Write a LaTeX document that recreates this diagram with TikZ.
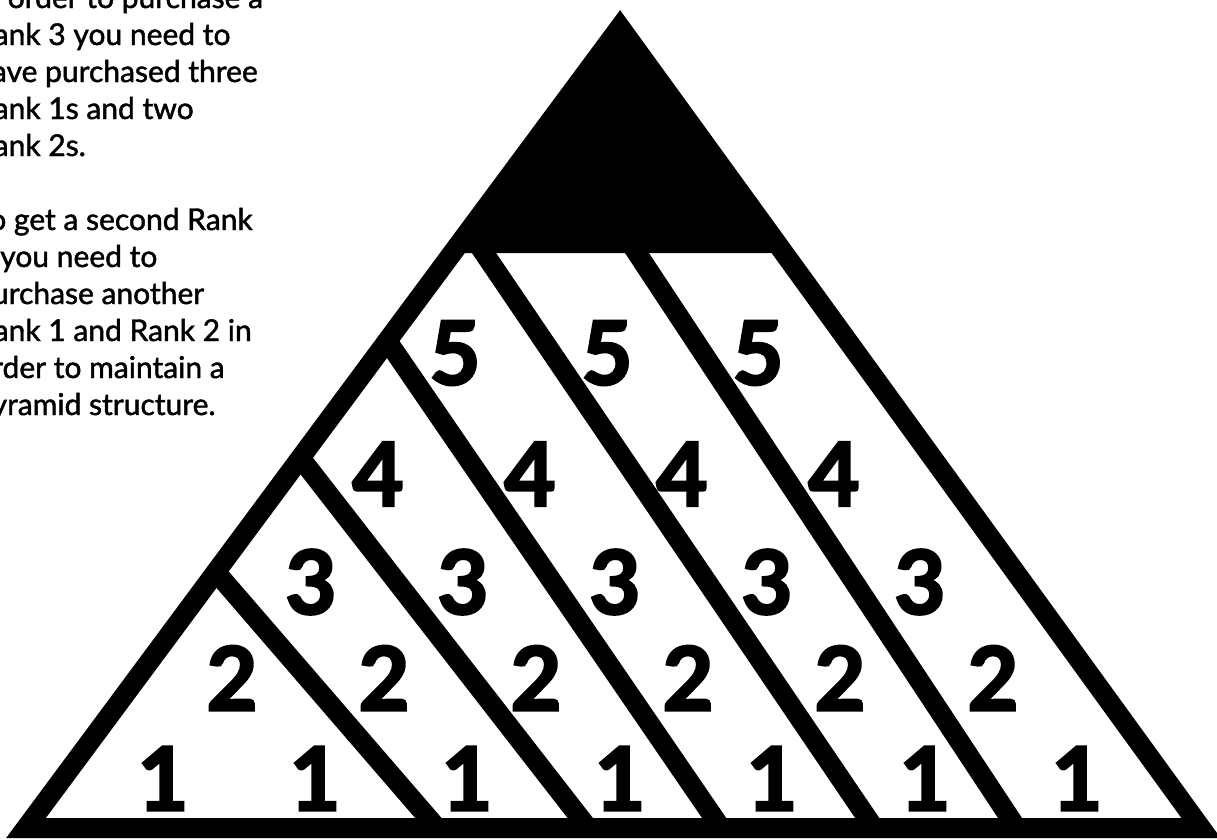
\documentclass[tikz,border=0pt]{standalone}
\usepackage{fontspec}
\setmainfont{Lato}
\newfontfamily\digitfont[FakeBold=3]{Lato}
\newfontfamily\notefont[FakeBold=1.5]{Lato}
\begin{document}
\begin{tikzpicture}[x=1pt,y=-1pt,
  edge/.style={line width=20pt, line join=miter, line cap=butt, draw=black},
  num/.style={font=\digitfont\fontsize{88}{88}\selectfont\bfseries, inner sep=0pt, anchor=center},
  para/.style={font=\notefont\fontsize{30}{37}\selectfont, inner sep=0pt, align=left, anchor=base west, text=black}
]
\clip (0,0) rectangle (1217,839);
% outer triangle corners (stroke centre line)
\coordinate (A) at (620,27);
\coordinate (L) at (26,828);
\coordinate (R) at (1201,828);
% black cap
\coordinate (CL) at (452.6,253);
\coordinate (CR) at (784.1,253);
\fill[black] (A) -- (CL) -- (CR) -- cycle;
% diagonal strokes
\coordinate (d1t) at (216,572);   \coordinate (d1b) at (437,828);
\coordinate (d2t) at (300.5,458); \coordinate (d2b) at (588,828);
\coordinate (d3t) at (387.4,341); \coordinate (d3b) at (721,828);
\coordinate (d4t) at (475.2,240); \coordinate (d4b) at (874,828);
\coordinate (d5t) at (628.4,240); \coordinate (d5b) at (1016.6,828);
\foreach \i in {1,...,5} {\draw[edge] (d\i t) -- (d\i b);}
\draw[edge] (A) -- (L) -- (R) -- cycle;
% numbers
\foreach \x [count=\k] in {163,315,467,620,772,925,1077} {\node[num] (one\k) at (\x,778.5) {1};}
\foreach \x [count=\k] in {232,384,536,688,840,993} {\node[num] (two\k) at (\x,678) {2};}
\foreach \x [count=\k] in {311,463,615,767,920} {\node[num] (three\k) at (\x,582) {3};}
\foreach \x [count=\k] in {378,530,682,834} {\node[num] (four\k) at (\x,474) {4};}
\foreach \x [count=\k] in {455,607,758} {\node[num] (five\k) at (\x,353) {5};}
% paragraph (anchored at the baseline of its last line)
\node[para] (note) at (-25,415) {In order to purchase a\\Rank 3 you need to\\have purchased three\\Rank 1s and two\\Rank 2s.\\[37pt]To get a second Rank\\3 you need to\\purchase another\\Rank 1 and Rank 2 in\\order to maintain a\\pyramid structure.};
\end{tikzpicture}
\end{document}
